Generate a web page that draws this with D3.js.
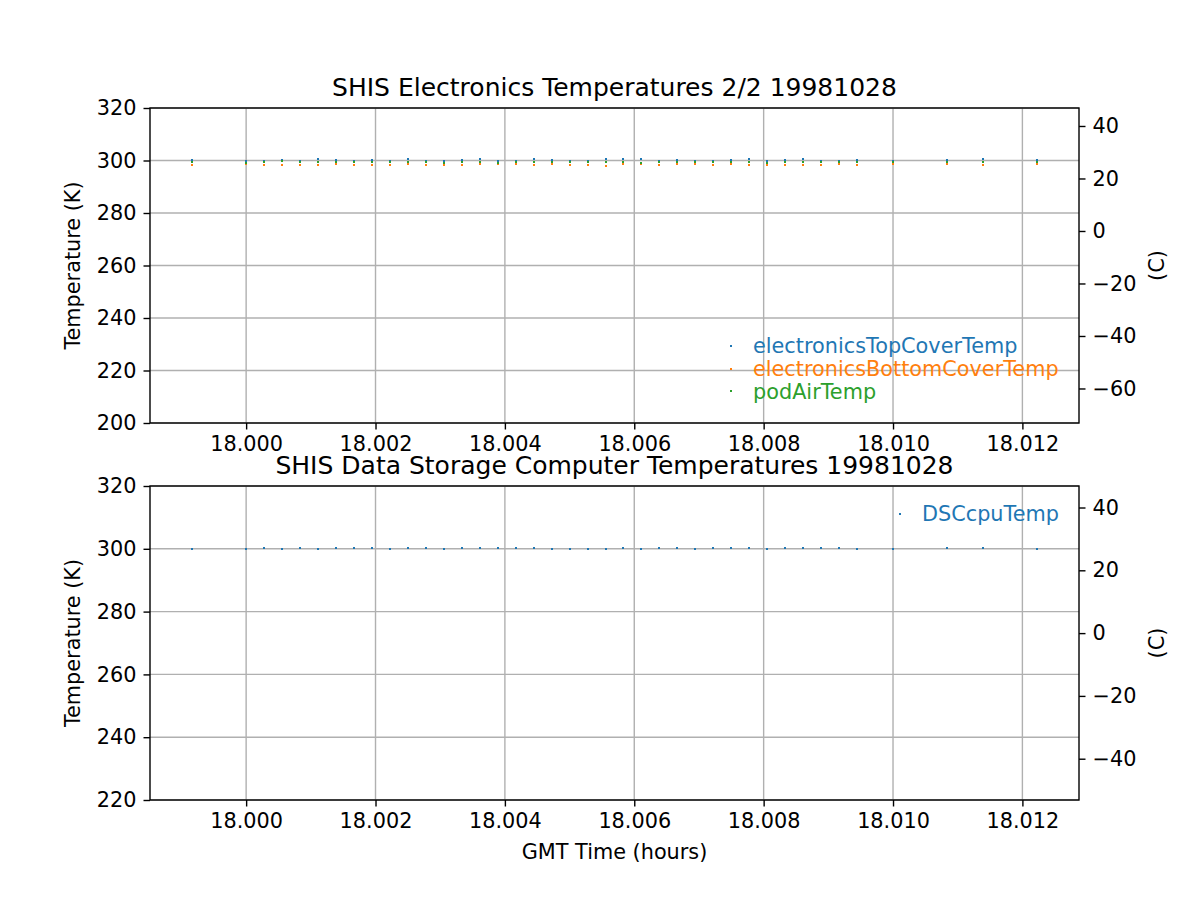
<!DOCTYPE html>
<html lang="en">
<head>
  <meta charset="UTF-8">
  <title>SHIS Temperatures 19981028</title>
  <script src="https://cdnjs.cloudflare.com/ajax/libs/d3/7.8.5/d3.min.js"></script>
  <style>
    body { margin: 0; background: white; }
    svg { background: white; font-family: "DejaVu Sans", sans-serif; }
  </style>
</head>
<body>
  <script>
    // time offsets in seconds after 18:00:00 GMT
    var seconds = [-3, 0, 1, 2, 3, 4, 5, 6, 7, 8, 9, 10, 11, 12, 13, 14, 15, 16, 17, 18,
                   19, 20, 21, 22, 23, 24, 25, 26, 27, 28, 29, 30, 31, 32, 33, 34, 36, 39, 41, 44];

    var topCoverTemp = [300.1, 300.0, 300.0, 300.1, 300.0, 300.5, 300.1, 300.0, 300.1, 300.0,
                        300.5, 300.0, 300.0, 300.1, 300.4, 300.0, 300.0, 300.4, 300.1, 300.0,
                        300.0, 300.4, 300.5, 300.6, 300.0, 300.1, 300.0, 300.0, 300.1, 300.4,
                        300.0, 300.1, 300.5, 300.0, 300.0, 300.1, 300.0, 300.1, 300.4, 300.1];

    var bottomCoverTemp = [298.4, 298.6, 298.4, 298.4, 298.4, 298.4, 298.5, 298.4, 298.3, 298.4,
                           298.5, 298.4, 298.4, 298.3, 298.5, 298.6, 298.5, 298.3, 298.5, 298.4,
                           298.4, 297.9, 298.5, 298.8, 298.4, 298.5, 298.5, 298.4, 298.5, 298.4,
                           298.4, 298.4, 298.4, 298.4, 298.5, 298.4, 298.5, 298.5, 298.4, 298.5];

    var podAirTemp = [299.3, 299.0, 299.3, 299.7, 299.3, 299.4, 299.4, 299.3, 299.5, 299.3,
                      299.5, 299.3, 299.2, 299.3, 299.4, 299.2, 299.4, 299.5, 299.4, 299.3,
                      299.4, 299.4, 299.3, 299.0, 299.3, 299.3, 299.4, 299.3, 299.4, 299.4,
                      299.1, 299.3, 299.4, 299.3, 299.4, 299.3, 299.3, 299.4, 299.4, 299.3];

    var dscCpuTemp = [299.8, 299.9, 300.2, 299.9, 300.2, 299.9, 300.4, 300.2, 300.2, 299.8,
                      300.2, 300.2, 299.9, 300.2, 300.2, 300.2, 300.2, 300.2, 300.0, 299.9,
                      299.9, 299.9, 300.2, 300.0, 300.2, 300.4, 300.0, 300.2, 300.2, 300.2,
                      299.9, 300.2, 300.2, 300.2, 300.2, 299.9, 299.8, 300.2, 300.2, 299.8];

    var xTicks = [18.000, 18.002, 18.004, 18.006, 18.008, 18.010, 18.012];
    var topKTicks = [200, 220, 240, 260, 280, 300, 320];
    var topCTicks = [-60, -40, -20, 0, 20, 40];
    var botKTicks = [220, 240, 260, 280, 300, 320];
    var botCTicks = [-40, -20, 0, 20, 40];

    var hours = seconds.map(function(s) { return 18 + s / 3600; });

    var w = 1200, h = 900;
    var left = 150, right = 1079;
    var fs = 20.8;

    var svg = d3.select("body").append("svg")
      .attr("width", w)
      .attr("height", h);

    // matplotlib-style 5% margins on x
    var xMin = d3.min(hours), xMax = d3.max(hours), pad = (xMax - xMin) * 0.05;
    var xScale = d3.scaleLinear()
      .domain([xMin - pad, xMax + pad])
      .range([left, right]);

    function panel(opts) {
      var yScale = d3.scaleLinear().domain(opts.kDomain).range([opts.bottom, opts.top]);
      var cScale = d3.scaleLinear()
        .domain([opts.kDomain[0] - 273.15, opts.kDomain[1] - 273.15])
        .range([opts.bottom, opts.top]);
      var g = svg.append("g");

      // grid
      g.append("g").selectAll("line").data(xTicks).enter().append("line")
        .attr("x1", function(d) { return xScale(d); })
        .attr("x2", function(d) { return xScale(d); })
        .attr("y1", opts.top).attr("y2", opts.bottom)
        .attr("stroke", "#b0b0b0").attr("stroke-width", 1.4);
      g.append("g").selectAll("line").data(opts.kTicks).enter().append("line")
        .attr("y1", function(d) { return yScale(d); })
        .attr("y2", function(d) { return yScale(d); })
        .attr("x1", left).attr("x2", right)
        .attr("stroke", "#b0b0b0").attr("stroke-width", 1.4);

      // points (pixel markers, snapped so they stay crisp)
      opts.series.forEach(function(s) {
        g.append("g").selectAll("rect").data(s.values).enter().append("rect")
          .attr("x", function(d, i) { return Math.round(xScale(hours[i])) - 1; })
          .attr("y", function(d) { return Math.round(yScale(d)) - 1; })
          .attr("width", 2).attr("height", 2)
          .attr("fill", s.color);
      });

      // frame
      g.append("rect")
        .attr("x", left).attr("y", opts.top)
        .attr("width", right - left).attr("height", opts.bottom - opts.top)
        .attr("fill", "none").attr("stroke", "black").attr("stroke-width", 1.4);

      // axes
      var xAxis = g.append("g").attr("transform", "translate(0," + opts.bottom + ")")
        .call(d3.axisBottom(xScale).tickValues(xTicks).tickFormat(d3.format(".3f"))
          .tickSize(6.5).tickPadding(7));
      var yAxis = g.append("g").attr("transform", "translate(" + left + ",0)")
        .call(d3.axisLeft(yScale).tickValues(opts.kTicks).tickFormat(d3.format("d"))
          .tickSize(6.5).tickPadding(7));
      var cAxis = g.append("g").attr("transform", "translate(" + right + ",0)")
        .call(d3.axisRight(cScale).tickValues(opts.cTicks).tickFormat(d3.format("d"))
          .tickSize(6.5).tickPadding(7));
      [xAxis, yAxis, cAxis].forEach(function(a) {
        a.select(".domain").remove();
        a.selectAll("line").attr("stroke", "black").attr("stroke-width", 1.4);
        a.selectAll("text").attr("font-size", fs).attr("font-family", "DejaVu Sans").attr("fill", "black");
      });

      // labels
      g.append("text")
        .attr("x", (left + right) / 2).attr("y", opts.top - 12.5)
        .attr("text-anchor", "middle").attr("font-size", 25)
        .text(opts.title);
      g.append("text")
        .attr("transform", "translate(80," + (opts.top + opts.bottom) / 2 + ") rotate(-90)")
        .attr("text-anchor", "middle").attr("font-size", fs)
        .text("Temperature (K)");
      g.append("text")
        .attr("transform", "translate(1164," + (opts.top + opts.bottom) / 2 + ") rotate(-90)")
        .attr("text-anchor", "middle").attr("font-size", fs)
        .text("(C)");

      // legend
      var lg = g.append("g");
      opts.series.forEach(function(s, i) {
        var y = opts.legendY + i * 22.7;
        lg.append("rect")
          .attr("x", opts.legendX - 1).attr("y", Math.round(y) - 1)
          .attr("width", 2).attr("height", 2).attr("fill", s.color);
        lg.append("text")
          .attr("x", opts.legendX + 22).attr("y", y)
          .attr("dy", "0.35em").attr("font-size", fs)
          .attr("fill", s.color).text(s.name);
      });
    }

    panel({
      top: 108, bottom: 423,
      kDomain: [200, 320], kTicks: topKTicks, cTicks: topCTicks,
      title: "SHIS Electronics Temperatures 2/2 19981028",
      legendX: 731, legendY: 346,
      series: [
        { name: "electronicsTopCoverTemp", values: topCoverTemp, color: "#1f77b4" },
        { name: "electronicsBottomCoverTemp", values: bottomCoverTemp, color: "#ff7f0e" },
        { name: "podAirTemp", values: podAirTemp, color: "#2ca02c" }
      ]
    });

    panel({
      top: 486, bottom: 800,
      kDomain: [220, 320], kTicks: botKTicks, cTicks: botCTicks,
      title: "SHIS Data Storage Computer Temperatures 19981028",
      legendX: 900, legendY: 514,
      series: [
        { name: "DSCcpuTemp", values: dscCpuTemp, color: "#1f77b4" }
      ]
    });

    svg.append("text")
      .attr("x", (left + right) / 2).attr("y", 859)
      .attr("text-anchor", "middle").attr("font-size", fs)
      .text("GMT Time (hours)");
  </script>
</body>
</html>
